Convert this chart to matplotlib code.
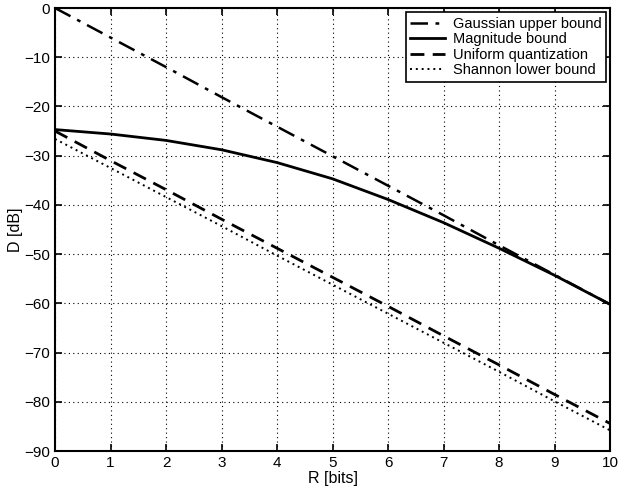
import matplotlib
matplotlib.use("Agg")
import matplotlib.pyplot as plt

plt.rcParams['font.family'] = ['Liberation Sans', 'DejaVu Sans']

rate = [0, 1, 2, 3, 4, 5, 6, 7, 8, 9, 10]
gaussian = [0.0, -6.0, -12.0, -18.1, -24.1, -30.1, -36.1, -42.1, -48.2, -54.2, -60.2]
magnitude = [-24.7, -25.6, -26.9, -28.8, -31.4, -34.7, -38.9, -43.6, -48.8, -54.3, -60.2]
uniform = [-25.0, -31.0, -36.9, -42.9, -48.8, -54.7, -60.6, -66.6, -72.5, -78.5, -84.4]
shannon = [-26.6, -32.5, -38.4, -44.3, -50.3, -56.2, -62.1, -68.0, -73.9, -79.9, -85.8]

labels = ["Gaussian upper bound", "Magnitude bound", "Uniform quantization", "Shannon lower bound"]
xticks = list(range(0, 11))
yticks = list(range(-90, 1, 10))

fig = plt.figure(figsize=(6.19, 4.94), dpi=100)
ax = fig.add_axes([0.0889, 0.087, 0.8966, 0.8968])

ax.plot(rate, gaussian, color='black', lw=1.8, linestyle=(0, (7, 3, 1.5, 3)), label=labels[0])
ax.plot(rate, magnitude, color='black', lw=2.0, linestyle='-', label=labels[1])
ax.plot(rate, uniform, color='black', lw=2.0, linestyle=(0, (5, 3)), label=labels[2])
ax.plot(rate, shannon, color='black', lw=1.4, linestyle=(0, (1, 2)), label=labels[3])

ax.set_xlim(0, 10)
ax.set_ylim(-90, 0)
ax.set_xticks(xticks)
ax.set_yticks(yticks)
ax.grid(True, color='black', linestyle=(0, (1, 3)), linewidth=0.8)
ax.tick_params(direction='in', top=True, right=True, labelsize=11, width=1.2, length=5)
for s in ax.spines.values():
    s.set_linewidth(1.5)
ax.set_xlabel("R [bits]", fontsize=11.5, labelpad=1)
ax.set_ylabel("D [dB]", fontsize=11.5, labelpad=1)

leg = ax.legend(loc='upper right', fontsize=10.5, frameon=True, fancybox=False,
                edgecolor='black', framealpha=1, borderpad=0.3, labelspacing=0.1,
                handlelength=2.4, handletextpad=0.5, borderaxespad=0.3)
leg.get_frame().set_linewidth(1.2)

fig.savefig("out.png", dpi=100)
